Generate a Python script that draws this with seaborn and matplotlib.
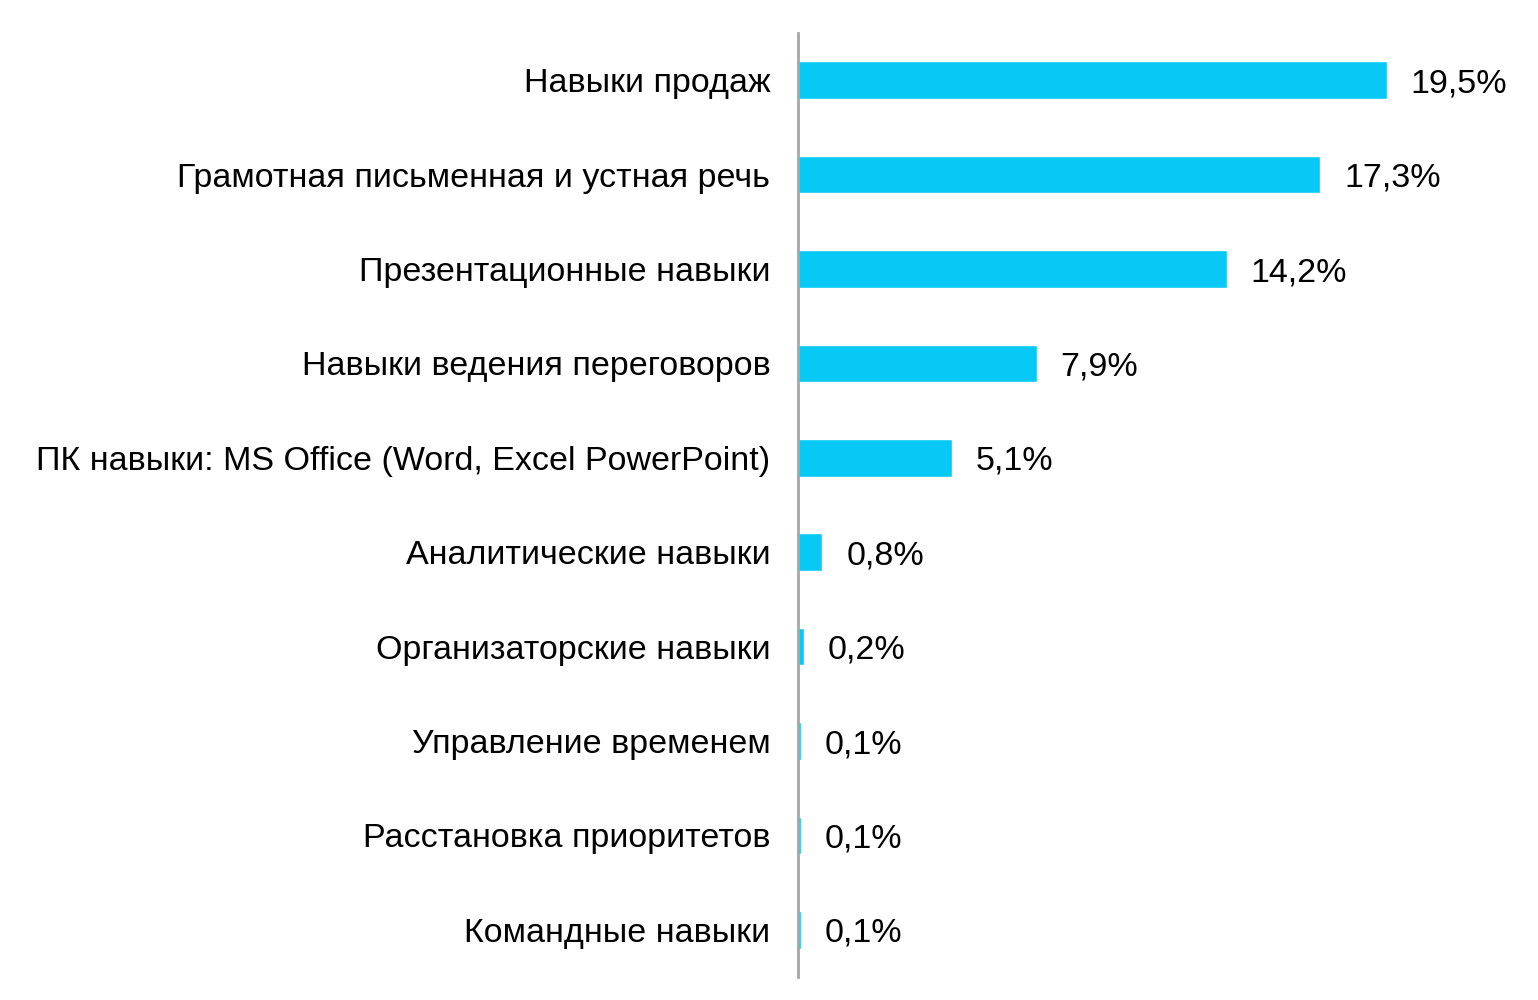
import matplotlib
matplotlib.use("Agg")
import matplotlib.pyplot as plt
import seaborn as sns
import pandas as pd

categories = [
    "Навыки продаж",
    "Грамотная письменная и устная речь",
    "Презентационные навыки",
    "Навыки ведения переговоров",
    "ПК навыки: MS Office (Word, Excel PowerPoint)",
    "Аналитические навыки",
    "Организаторские навыки",
    "Управление временем",
    "Расстановка приоритетов",
    "Командные навыки",
]
values = [19.5, 17.3, 14.2, 7.9, 5.1, 0.8, 0.2, 0.1, 0.1, 0.1]
value_labels = ["19,5%", "17,3%", "14,2%", "7,9%", "5,1%", "0,8%", "0,2%", "0,1%", "0,1%", "0,1%"]

sns.set_theme(style="white")
plt.rcParams["font.family"] = ["Liberation Sans", "DejaVu Sans"]

df = pd.DataFrame({"cat": categories, "val": values})

fig = plt.figure(figsize=(15.38, 10.0), dpi=100)
ax = fig.add_axes([0.5189, 0.023, 0.4711, 0.944])
sns.barplot(data=df, x="val", y="cat", color="#08C8F5", saturation=1,
            width=0.4, ax=ax, orient="h")

ax.set_xlim(0, 24)
ax.set_ylim(9.5, -0.5)
ax.set_xlabel("")
ax.set_ylabel("")
ax.set_xticks([])
ax.tick_params(axis="y", length=0, pad=20, labelsize=24.5, colors="black")
for t in ax.get_yticklabels():
    t.set_verticalalignment("center_baseline")
for s in ["top", "right", "bottom"]:
    ax.spines[s].set_visible(False)
ax.spines["left"].set_color("#A6A6A6")
ax.spines["left"].set_linewidth(2)
ax.spines["left"].set_zorder(5)

for i, (v, lab) in enumerate(zip(values, value_labels)):
    ax.annotate(lab, xy=(v, i), xytext=(24, 0), textcoords="offset pixels",
                va="center_baseline", ha="left", fontsize=24.5, color="black")

fig.savefig("out.png", dpi=100, facecolor="white")
